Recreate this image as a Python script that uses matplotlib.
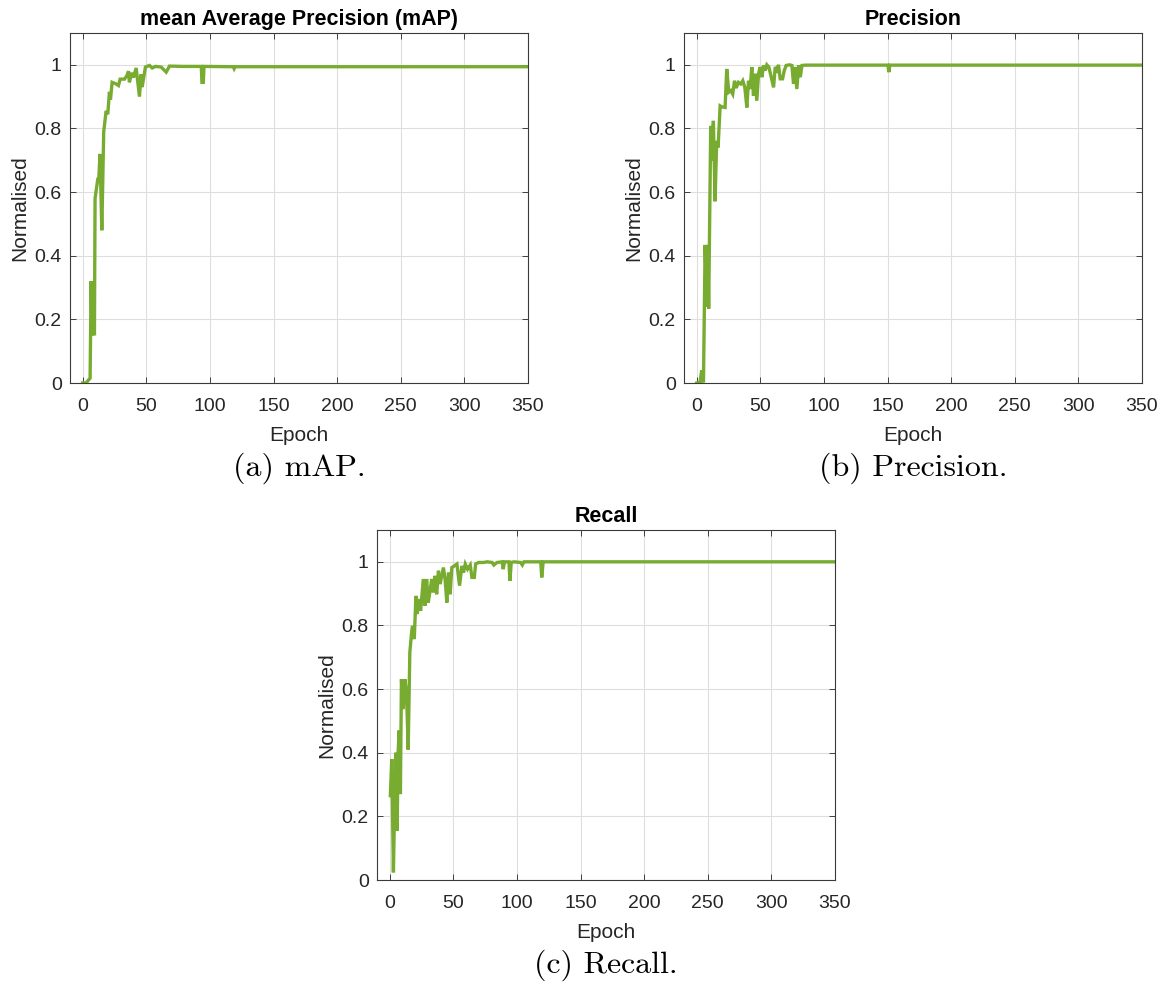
import matplotlib.pyplot as plt
import numpy as np

# mAP curve (epoch, value)
map_epoch = [0, 2.6, 4.7, 5.8, 6.6, 7.3, 8.1, 9.2, 9.7, 11.8, 12.6, 13.6, 15.0, 16.5,
             18.4, 19.7, 21.0, 21.8, 23.1, 26.2, 28.1, 29.4, 32.8, 34.6, 36.0, 36.7,
             38.6, 39.9, 42.0, 44.6, 45.9, 46.7, 49.3, 52.5, 54.6, 57.2, 61.7, 65.6,
             68.2, 78.7, 93.2, 93.7, 94.8, 95.3, 118.3, 119.0, 119.7, 350]
map_value = [0.0, 0.0, 0.01, 0.015, 0.32, 0.15, 0.32, 0.15, 0.58, 0.64, 0.64, 0.72, 0.48, 0.79,
             0.855, 0.845, 0.915, 0.89, 0.945, 0.94, 0.935, 0.955, 0.955, 0.965, 0.98, 0.945,
             0.975, 0.96, 0.99, 0.90, 0.97, 0.93, 0.993, 0.998, 0.99, 0.995, 0.993, 0.977,
             0.996, 0.995, 0.995, 0.945, 0.945, 0.995, 0.994, 0.988, 0.994, 0.994]

# precision curve
prec_epoch = [0, 2.6, 3.9, 5.3, 6.6, 7.9, 8.7, 9.4, 11.0, 11.8, 13.1, 14.4, 15.7, 16.8,
              18.4, 19.7, 22.3, 23.6, 25.2, 26.8, 28.3, 29.7, 31.0, 32.8, 34.6, 36.2,
              37.8, 39.4, 40.7, 42.0, 43.3, 44.6, 45.9, 47.2, 48.6, 49.9, 51.2, 52.5,
              53.8, 55.1, 56.7, 58.3, 60.4, 61.7, 63.0, 64.3, 65.6, 67.5, 68.8, 70.3,
              73.0, 74.8, 76.1, 77.2, 78.7, 80.1, 81.4, 82.7, 85.3, 150.3, 151.0, 151.8, 350]
prec_value = [0.0, 0.002, 0.04, 0.002, 0.434, 0.24, 0.434, 0.234, 0.808, 0.70, 0.824, 0.571, 0.761, 0.74,
              0.871, 0.868, 0.866, 0.987, 0.914, 0.919, 0.908, 0.95, 0.927, 0.945, 0.94, 0.95,
              0.929, 0.866, 0.95, 0.924, 0.993, 0.903, 0.972, 0.887, 0.972, 0.993, 0.961, 0.998,
              0.982, 1.0, 0.993, 0.966, 0.929, 0.993, 0.984, 1.0, 0.956, 0.956, 0.982, 0.998,
              1.0, 0.998, 0.94, 0.993, 0.924, 0.998, 0.961, 0.998, 0.999, 0.999, 0.977, 0.999, 0.999]

# recall curve
rec_epoch = [0.5, 1.6, 2.9, 4.0, 4.7, 5.8, 6.6, 7.4, 8.4, 9.2, 10.6, 11.9, 13.2, 14.5, 15.8,
             17.2, 17.9, 19.3, 20.6, 21.6, 22.9, 24.3, 26.4, 27.7, 29.0, 30.3, 31.7, 33.0,
             34.3, 35.6, 36.9, 38.3, 39.6, 42.2, 43.5, 44.9, 46.2, 47.5, 48.8, 50.7, 52.8,
             54.9, 56.7, 58.0, 59.4, 61.2, 63.3, 64.6, 66.5, 67.5, 69.9, 73.9, 76.5, 80.5,
             81.8, 84.4, 88.4, 89.2, 90.2, 93.7, 94.5, 95.5, 97.6, 102.9, 104.2, 105.5,
             118.7, 119.5, 120.6, 350]
rec_value = [0.265, 0.38, 0.024, 0.275, 0.40, 0.155, 0.40, 0.47, 0.27, 0.631, 0.537, 0.631, 0.59, 0.41, 0.715,
             0.778, 0.799, 0.757, 0.893, 0.836, 0.883, 0.846, 0.946, 0.862, 0.946, 0.872, 0.909, 0.946,
             0.904, 0.956, 0.898, 0.972, 0.93, 0.982, 0.946, 0.872, 0.966, 0.898, 0.982, 0.987, 0.993,
             0.925, 0.987, 0.966, 0.993, 0.977, 0.99, 0.951, 0.951, 0.993, 0.998, 0.998, 1.0, 0.998,
             0.99, 0.998, 1.0, 0.977, 1.0, 1.0, 0.94, 0.998, 1.0, 0.998, 0.99, 1.0,
             1.0, 0.951, 1.0, 1.0]

titles = ["mean Average Precision (mAP)", "Precision", "Recall"]
captions = ["(a) mAP.", "(b) Precision.", "(c) Recall."]
x_ticks = [0, 50, 100, 150, 200, 250, 300, 350]
y_ticks = [0, 0.2, 0.4, 0.6, 0.8, 1.0]
y_tick_labels = ["0", "0.2", "0.4", "0.6", "0.8", "1"]

plt.rcParams['font.family'] = ['Liberation Sans', 'DejaVu Sans']

W, H = 1163, 988
fig = plt.figure(figsize=(W / 100, H / 100), dpi=100)

# axes boxes in pixels: left, top, right, bottom
boxes = [(70, 33, 528, 383), (684, 33, 1142, 383), (377, 530, 835, 880)]
series = [(map_epoch, map_value), (prec_epoch, prec_value), (rec_epoch, rec_value)]

green = '#77AC30'
dark = '#262626'

for (l, t, r, b), (ep, val), title, cap in zip(boxes, series, titles, captions):
    ax = fig.add_axes([l / W, 1 - b / H, (r - l) / W, (b - t) / H])
    ax.plot(ep, val, color=green, lw=2.4, solid_joinstyle='miter')
    ax.set_xlim(-10, 350)
    ax.set_ylim(0, 1.1)
    ax.set_xticks(x_ticks)
    ax.set_yticks(y_ticks)
    ax.set_yticklabels(y_tick_labels)
    ax.grid(True, color='#dedede', lw=0.8)
    ax.set_axisbelow(True)
    ax.tick_params(direction='in', top=True, right=True, labelsize=14,
                   colors=dark, length=4, width=0.6)
    ax.tick_params(axis='x', pad=11)
    ax.tick_params(axis='y', pad=6)
    for s in ax.spines.values():
        s.set_color('#3a3a3a')
        s.set_linewidth(0.8)
    ax.set_title(title, fontsize=15.5, fontweight='bold', pad=6)
    ax.set_xlabel("Epoch", fontsize=15, color=dark, labelpad=8)
    ax.set_ylabel("Normalised", fontsize=15, color=dark, labelpad=4)
    cx = (l + r) / 2 / W
    cy = 1 - (b + 85) / H
    fig.text(cx, cy, cap, ha='center', va='center', fontsize=23, family='cmr10')

fig.savefig("out.png", dpi=100)
